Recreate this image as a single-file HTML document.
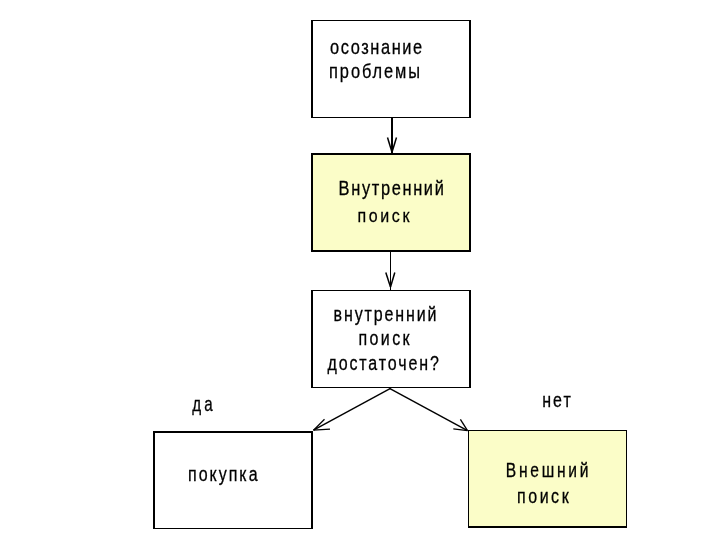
<!DOCTYPE html>
<html><head><meta charset="utf-8"><style>
html,body{margin:0;padding:0;background:#fff;width:720px;height:540px;overflow:hidden}
svg{display:block}
.t{filter:grayscale(1)}
text{stroke:#000;stroke-width:0.3px}
text{font-family:"Liberation Sans",sans-serif;fill:#000}
</style></head><body>
<svg width="720" height="540" viewBox="0 0 720 540">
<rect width="720" height="540" fill="#fff"/>
<rect x="311" y="153" width="160" height="99" fill="rgb(251,253,200)"/>
<rect x="468" y="430" width="159" height="98" fill="rgb(251,253,200)"/>
<rect x="311" y="20" width="160" height="1" fill="#000"/>
<rect x="311" y="117" width="160" height="1" fill="#000"/>
<rect x="311" y="20" width="2" height="98" fill="#000"/>
<rect x="469" y="20" width="2" height="98" fill="#000"/>
<rect x="311" y="153" width="160" height="2" fill="#000"/>
<rect x="311" y="250" width="160" height="2" fill="#000"/>
<rect x="311" y="153" width="2" height="99" fill="#000"/>
<rect x="469" y="153" width="2" height="99" fill="#000"/>
<rect x="311" y="290" width="160" height="1" fill="#000"/>
<rect x="311" y="387" width="160" height="1" fill="#000"/>
<rect x="311" y="290" width="2" height="98" fill="#000"/>
<rect x="469" y="290" width="2" height="98" fill="#000"/>
<rect x="153" y="431" width="160" height="2" fill="#000"/>
<rect x="153" y="528" width="160" height="1" fill="#000"/>
<rect x="153" y="431" width="2" height="98" fill="#000"/>
<rect x="311" y="431" width="2" height="98" fill="#000"/>
<rect x="468" y="430" width="159" height="1" fill="#000"/>
<rect x="468" y="526" width="159" height="2" fill="#000"/>
<rect x="468" y="430" width="1" height="98" fill="#000"/>
<rect x="626" y="430" width="1" height="98" fill="#000"/>
<rect x="391" y="118" width="2" height="35" fill="#000"/>
<rect x="390" y="252" width="1" height="38" fill="#000"/>
<line x1="387.5" y1="137.5" x2="391.8" y2="151.5" stroke="#000" stroke-width="1.5" stroke-linecap="butt"/>
<line x1="396.5" y1="137.5" x2="392.2" y2="151.5" stroke="#000" stroke-width="1.5" stroke-linecap="butt"/>
<line x1="385.8" y1="272.5" x2="390.5" y2="287" stroke="#000" stroke-width="1.5" stroke-linecap="butt"/>
<line x1="394.8" y1="272.5" x2="390.5" y2="287" stroke="#000" stroke-width="1.5" stroke-linecap="butt"/>
<line x1="390.5" y1="388.3" x2="313.5" y2="430.2" stroke="#000" stroke-width="1.4" stroke-linecap="butt"/>
<line x1="389.5" y1="388.3" x2="467.5" y2="430.6" stroke="#000" stroke-width="1.4" stroke-linecap="butt"/>
<line x1="313.5" y1="430.2" x2="324.5" y2="419.3" stroke="#000" stroke-width="1.3" stroke-linecap="butt"/>
<line x1="313.5" y1="430.2" x2="330" y2="429.2" stroke="#000" stroke-width="1.3" stroke-linecap="butt"/>
<line x1="467.5" y1="430.6" x2="460.4" y2="419.3" stroke="#000" stroke-width="1.3" stroke-linecap="butt"/>
<line x1="467.5" y1="430.6" x2="453.3" y2="428.9" stroke="#000" stroke-width="1.3" stroke-linecap="butt"/>
<g class="t">
<text transform="translate(330.00 53.60) scale(0.8000 1.0000)" font-size="20.5" letter-spacing="1.987">осознание</text>
<text transform="translate(329.00 78.00) scale(0.8000 1.0000)" font-size="20.5" letter-spacing="2.433">проблемы</text>
<text transform="translate(338.60 194.80) scale(0.8000 1.0000)" font-size="20.5" letter-spacing="2.068">Внутренний</text>
<text transform="translate(357.40 221.60) scale(0.8000 0.9000)" font-size="20" letter-spacing="3.296">поиск</text>
<text transform="translate(333.60 320.80) scale(0.8000 1.0000)" font-size="20" letter-spacing="2.333">внутренний</text>
<text transform="translate(358.60 345.30) scale(0.8000 1.0000)" font-size="20" letter-spacing="2.941">поиск</text>
<text transform="translate(327.50 370.00) scale(0.8000 1.0000)" font-size="20" letter-spacing="2.342">достаточен?</text>
<text transform="translate(192.20 410.80) scale(0.7400 1.0000)" font-size="20.5" letter-spacing="4.287">да</text>
<text transform="translate(542.20 407.00) scale(0.8000 1.0000)" font-size="20" letter-spacing="2.596">нет</text>
<text transform="translate(188.10 480.50) scale(0.8000 1.0000)" font-size="20" letter-spacing="2.456">покупка</text>
<text transform="translate(505.80 477.00) scale(0.8000 1.0000)" font-size="19.5" letter-spacing="3.428">Внешний</text>
<text transform="translate(517.00 502.50) scale(0.8000 1.0000)" font-size="20" letter-spacing="3.165">поиск</text>
</g>
</svg>
</body></html>
